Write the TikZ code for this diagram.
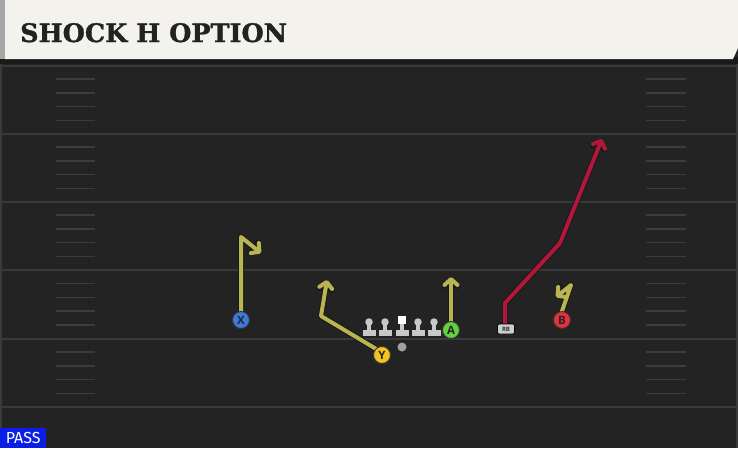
\documentclass[tikz,border=0pt]{standalone}
\usepackage{fontspec}
\setmainfont{DejaVu Sans}
\newfontfamily\titlefont{DejaVu Serif}[FakeBold=1.2]
\newfontfamily\labfont{Open Sans}
\newfontfamily\passfont{Fira Sans}
\usetikzlibrary{arrows.meta}
\definecolor{fieldbg}{HTML}{232323}
\definecolor{yardln}{HTML}{3A3A3A}
\definecolor{hashln}{HTML}{3C3C3C}
\definecolor{titlebg}{HTML}{F4F2EC}
\definecolor{titletx}{HTML}{222222}
\definecolor{routey}{HTML}{B8B552}
\definecolor{router}{HTML}{B0173A}
\definecolor{pblue}{HTML}{3D7BDA}
\definecolor{pyellow}{HTML}{F2C21E}
\definecolor{pgreen}{HTML}{62D040}
\definecolor{pred}{HTML}{E2303C}
\definecolor{lineman}{HTML}{C8C8C8}
\definecolor{passbl}{HTML}{0A1EE6}
\tikzset{
  yard/.style={draw=yardln, line width=2pt},
  hash/.style={draw=hashln, line width=1.5pt},
  route/.style={line width=4pt, line join=round, line cap=round, -{Straight Barb[round,length=6pt,width=13pt,line width=4pt]},
     preaction={draw=black!90, line width=6pt, line join=round, line cap=round, -{Straight Barb[round,length=6pt,width=13pt,line width=6pt]}}},
  player/.style={circle, draw=black!80, line width=0.9pt, minimum size=17pt, inner sep=0pt,
     font=\labfont\bfseries\fontsize{11.5}{11.5}\selectfont, text=black!85},
  rbbox/.style={rounded corners=2pt, fill=lineman!90!white, draw=black, line width=0.6pt, minimum width=17pt, minimum height=10pt, inner sep=0pt, font=\labfont\bfseries\fontsize{6}{6}\selectfont, text=black!80},
  lmhead/.style={circle, fill=lineman, minimum size=7.5pt, inner sep=0pt},
}
\begin{document}
\begin{tikzpicture}[x=1pt,y=-1pt]
\useasboundingbox (0,0) rectangle (738,448);
\fill[fieldbg] (0,0) rectangle (738,448);
% edges
\draw[yardln, line width=1.5pt] (1,64) -- (1,448);
\draw[yardln, line width=1.5pt] (737,64) -- (737,448);
% yard lines
\foreach \y in {65.5,133.5,201.5,270,338.5,407} {\draw[yard] (0,\y) -- (738,\y);}
% hash marks
\foreach \b in {65.5,133.5,201.5,270,338.5} {
  \foreach \k in {1,2,3,4} {
    \draw[hash] (56,\b+\k*13.7) -- (95,\b+\k*13.7);
    \draw[hash] (646,\b+\k*13.7) -- (686,\b+\k*13.7);
  }
}
% title bar
\fill[black!90] (0,57) rectangle (738,64);
\fill[titlebg] (5,0) -- (738,0) -- (738,48) -- (733,59) -- (5,59) -- cycle;
\fill[black!35] (0,0) rectangle (5,59);
\node[anchor=base west, inner sep=0pt, text=titletx, font=\titlefont\bfseries\fontsize{25.5}{26}\selectfont] (title) at (20,42) {SHOCK H OPTION};
% players
\node[player, fill=pblue] (X) at (241,320) {X};
\node[player, fill=pyellow] (Y) at (382,355) {Y};
\node[player, fill=pgreen] (A) at (451,330) {A};
\node[player, fill=pred] (B) at (562,320) {B};
\node[rbbox] (RB) at (506,329) {RB};
\node[circle, fill=gray!75, minimum size=9pt, inner sep=0pt] (QB) at (402,347) {};
% linemen
\foreach \n/\x in {l1/369,l2/385,l4/418,l5/434} {
  \fill[lineman] (\x-2,323) rectangle (\x+2,332);
  \fill[lineman] (\x-6.5,330) rectangle (\x+6.5,336);
  \node[lmhead] (\n) at (\x,322) {};
}
\fill[lineman] (400,323) rectangle (404,332);
\fill[lineman] (395.5,330) rectangle (408.5,336);
\node[fill=white, minimum size=8.5pt, inner sep=0pt] (C) at (402,320) {};
% routes
\coordinate (x1) at (241,237);
\coordinate (x2) at (261,253);
\coordinate (y1) at (321,316);
\coordinate (y2) at (327,280);
\coordinate (a1) at (451,277);
\coordinate (r1) at (505,303);
\coordinate (r2) at (560,243);
\coordinate (r3) at (602,139);
\coordinate (b1) at (571,285);
\coordinate (b2) at (556,297);
\coordinate (rbs) at (505,324);
\draw[route, routey] (X.north) -- (x1) -- (x2);
\draw[route, routey] (Y.north west) -- (y1) -- (y2);
\draw[route, routey] (A.north) -- (a1);
\draw[route, router] (rbs) -- (r1) -- (r2) -- (r3);
\draw[route, routey] (B.north) -- (b1) -- (b2);
% redraw players on top
\node[player, fill=pblue] at (X) {X};
\node[player, fill=pyellow] at (Y) {Y};
\node[player, fill=pgreen] at (A) {A};
\node[player, fill=pred] at (B) {B};
\node[rbbox] at (RB) {RB};
% pass label
\node[anchor=south west, fill=passbl, minimum width=46pt, minimum height=20pt, inner sep=0pt, text=white, font=\passfont\fontsize{16}{16}\selectfont] (pass) at (0,448) {PASS};
\end{tikzpicture}
\end{document}
